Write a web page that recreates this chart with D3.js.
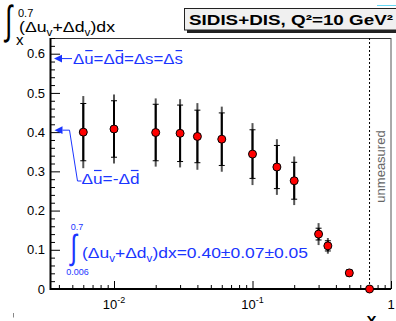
<!DOCTYPE html>
<html><head><meta charset="utf-8">
<script src="https://cdn.jsdelivr.net/npm/d3@7"></script>
<style>body{margin:0;background:#fff}svg{display:block}text{font-family:"Liberation Sans",Arial,sans-serif}</style>
</head><body><svg id="c" width="396" height="321"></svg>
<script>
// ---- data ----
const xValues   = [0.006, 0.01, 0.02, 0.03, 0.04, 0.06, 0.1, 0.15, 0.2, 0.3, 0.35, 0.5, 0.7];
const yValues   = [0.400, 0.408, 0.399, 0.397, 0.389, 0.382, 0.344, 0.311, 0.276, 0.140, 0.110, 0.041, 0.0];
const statErr   = [0.073, 0.072, 0.072, 0.072, 0.067, 0.067, 0.062, 0.055, 0.047, 0.015, 0.013, 0.008, 0];
const totalErr  = [0.092, 0.088, 0.087, 0.087, 0.085, 0.083, 0.079, 0.071, 0.062, 0.028, 0.020, 0.010, 0];
const yMajorTicks = [0, 0.1, 0.2, 0.3, 0.4, 0.5, 0.6];
const yTickLabels = ["0", "0.1", "0.2", "0.3", "0.4", "0.5", "0.6"];
const xMajorTicks = [0.01, 0.1, 1];
const xTickBase = ["10", "10", "1"];
const xTickExp  = ["-2", "-1", ""];
const symLevel = 0.5875;   // Δū=Δd̄=Δs=Δs̄
const asymLevel = 0.405;   // Δū=-Δd̄
const xLimit = 0.7;
const titleText = "SIDIS+DIS, Q²=10 GeV²";

const blue = "#1a35ff";
const svg = d3.select('#c');
const x = d3.scaleLog().domain([0.00345, 1]).range([50, 391]);
const y = d3.scaleLinear().domain([0, 0.64]).range([289, 38]);

// frame
svg.append('line').attr('x1',50).attr('x2',391).attr('y1',38.5).attr('y2',38.5).attr('stroke','#333').attr('stroke-width',1);
svg.append('line').attr('x1',391).attr('x2',391).attr('y1',38).attr('y2',289).attr('stroke','#555').attr('stroke-width',1);

// y axis
const yMinor = d3.range(0, 0.641, 0.02).filter(v => !yMajorTicks.some(m => Math.abs(m - v) < 1e-6));
const gy = svg.append('g').attr('transform','translate(50,0)');
gy.call(d3.axisLeft(y).tickValues(yMajorTicks).tickSize(-10).tickPadding(5)
  .tickFormat((d,i) => yTickLabels[i]));
gy.append('g').call(d3.axisLeft(y).tickValues(yMinor).tickSize(-5).tickFormat(''));
gy.selectAll('.domain').remove();
gy.selectAll('line').attr('stroke','#000').attr('stroke-width',1);
gy.selectAll('text').attr('font-size',13).attr('font-family','Liberation Sans, Arial, sans-serif').attr('fill','#000');

// x axis
const xMinor = [];
[0.001, 0.01, 0.1].forEach(dec => { for (let k = 2; k <= 9; k++) { const v = k*dec; if (v >= 0.00345 && v < 1) xMinor.push(v); } });
const gx = svg.append('g').attr('transform','translate(0,289)');
gx.call(d3.axisBottom(x).tickValues(xMajorTicks).tickSize(-8).tickFormat(''));
gx.append('g').call(d3.axisBottom(x).tickValues(xMinor).tickSize(-4).tickFormat(''));
gx.selectAll('.domain').remove();
gx.selectAll('line').attr('stroke','#000').attr('stroke-width',1);
xMajorTicks.forEach((v,i) => {
  const t = svg.append('text').attr('x', x(v)).attr('y', 309).attr('font-size',13).attr('text-anchor','middle');
  t.append('tspan').text(xTickBase[i]);
  if (xTickExp[i]) t.append('tspan').attr('dy',-6).attr('font-size',9).text(xTickExp[i]);
});

// axis lines
svg.append('line').attr('x1',50.5).attr('x2',50.5).attr('y1',38).attr('y2',290).attr('stroke','#000').attr('stroke-width',2);
svg.append('line').attr('x1',50).attr('x2',391).attr('y1',289).attr('y2',289).attr('stroke','#000').attr('stroke-width',2);

// dotted line at x = 0.7
svg.append('line').attr('x1',x(xLimit)).attr('x2',x(xLimit)).attr('y1',38).attr('y2',289)
  .attr('stroke','#000').attr('stroke-width',1).attr('stroke-dasharray','2,2');

// unmeasured
svg.append('text').attr('transform',`translate(385,166.5) rotate(-90)`).attr('text-anchor','middle')
  .attr('font-size',13).attr('fill','#666').text('unmeasured');

// error bars + points
const pts = xValues.map((v,i) => ({x:v, y:yValues[i], s:statErr[i], t:totalErr[i]}));
const gp = svg.append('g');
pts.filter(d => d.t > 0).forEach(d => {
  gp.append('line').attr('x1',x(d.x)).attr('x2',x(d.x)).attr('y1',y(d.y-d.t)).attr('y2',y(d.y+d.t)).attr('stroke','#555').attr('stroke-width',2);
  gp.append('line').attr('x1',x(d.x)).attr('x2',x(d.x)).attr('y1',y(d.y-d.s)).attr('y2',y(d.y+d.s)).attr('stroke','#000').attr('stroke-width',2);
  [d.y-d.s, d.y+d.s].forEach(v => gp.append('line').attr('x1',x(d.x)-3).attr('x2',x(d.x)+3).attr('y1',y(v)).attr('y2',y(v)).attr('stroke','#000').attr('stroke-width',1));
});
gp.selectAll('circle').data(pts).join('circle').attr('cx',d=>x(d.x)).attr('cy',d=>y(d.y)).attr('r',4)
  .attr('fill','#ff0000').attr('stroke','#000').attr('stroke-width',1);

// helper: overlines on chars
function overline(textSel, idxs, color, lift) {
  const node = textSel.node();
  idxs.forEach(i => {
    const e = node.getExtentOfChar(i);
    svg.append('line').attr('x1',e.x+1).attr('x2',e.x+e.width-1).attr('y1',e.y+lift).attr('y2',e.y+lift)
      .attr('stroke',color).attr('stroke-width',1.2);
  });
}

// blue annotation 1
const y1 = y(symLevel);
svg.append('path').attr('d',`M54,${y1} L62,${y1-3.8} L62,${y1+3.8} Z`).attr('fill',blue);
svg.append('line').attr('x1',62).attr('x2',72).attr('y1',y1).attr('y2',y1).attr('stroke',blue).attr('stroke-width',1);
const t1 = svg.append('text').attr('x',73).attr('y',y1+5).attr('font-size',14).attr('fill',blue)
  .attr('textLength',110).attr('lengthAdjust','spacingAndGlyphs').text('Δu=Δd=Δs=Δs');
overline(t1, [1,4,10], blue, 0);

// blue annotation 2
const y2 = y(asymLevel);
svg.append('path').attr('d',`M54.5,${y2} L62.5,${y2-3.8} L62.5,${y2+3.8} Z`).attr('fill',blue);
svg.append('polyline').attr('points',`62.5,${y2} 69.5,${y2} 77.5,181 81.5,181`).attr('fill','none').attr('stroke',blue).attr('stroke-width',1);
const t2 = svg.append('text').attr('x',81.5).attr('y',183.5).attr('font-size',14).attr('fill',blue)
  .attr('textLength',58).attr('lengthAdjust','spacingAndGlyphs').text('Δu=-Δd');
overline(t2, [1,5], blue, 0);

// integral annotation
svg.append('text').attr('transform','translate(70.5,259) scale(1,1.45)').attr('font-size',24)
  .attr('font-family','DejaVu Sans').attr('fill',blue).text('∫');
svg.append('text').attr('x',77).attr('y',230).attr('font-size',9).attr('text-anchor','middle').attr('fill',blue).text('0.7');
svg.append('text').attr('x',77.5).attr('y',275).attr('font-size',9).attr('text-anchor','middle').attr('fill',blue).text('0.006');
const t3 = svg.append('text').attr('x',82).attr('y',258).attr('font-size',15).attr('fill',blue)
  .attr('textLength',226).attr('lengthAdjust','spacingAndGlyphs');
t3.append('tspan').text('(Δu');
t3.append('tspan').attr('font-size',10).attr('dy',4).text('v');
t3.append('tspan').attr('dy',-4).text('+Δd');
t3.append('tspan').attr('font-size',10).attr('dy',4).text('v');
t3.append('tspan').attr('dy',-4).text(')dx=0.40±0.07±0.05');

// y axis title
svg.append('text').attr('transform','translate(5,34) scale(1,1.55)').attr('font-size',26)
  .attr('font-family','DejaVu Sans').attr('fill','#000').text('∫');
svg.append('text').attr('x',18).attr('y',16.5).attr('font-size',11).text('0.7');
svg.append('text').attr('x',16).attr('y',45).attr('font-size',15).text('x');
const t4 = svg.append('text').attr('x',19).attr('y',31.5).attr('font-size',15)
  .attr('textLength',96).attr('lengthAdjust','spacingAndGlyphs');
t4.append('tspan').text('(Δu');
t4.append('tspan').attr('font-size',10).attr('dy',4).text('v');
t4.append('tspan').attr('dy',-4).text('+Δd');
t4.append('tspan').attr('font-size',10).attr('dy',4).text('v');
t4.append('tspan').attr('dy',-4).text(')dx');

// title box
svg.append('rect').attr('x',187).attr('y',12).attr('width',209).attr('height',21).attr('fill','#222');
svg.append('rect').attr('x',184.5).attr('y',8.5).attr('width',215).attr('height',21.5).attr('fill','#f0f0f0').attr('stroke','#222').attr('stroke-width',1);
svg.append('text').attr('x',189).attr('y',25).attr('font-size',15).attr('font-weight','bold')
  .attr('textLength',204).attr('lengthAdjust','spacingAndGlyphs').text(titleText);

// cyan mark
svg.append('line').attr('x1',377).attr('x2',396).attr('y1',5.5).attr('y2',5.5).attr('stroke','#66d8f5').attr('stroke-width',1);

// x axis label
svg.append('text').attr('x',371.5).attr('y',326).attr('font-size',15).attr('font-weight','bold').attr('text-anchor','middle').text('X');
// small stray mark
svg.append('line').attr('x1',13.5).attr('x2',13.5).attr('y1',313).attr('y2',317.5).attr('stroke','#888').attr('stroke-width',1);
</script></body></html>
